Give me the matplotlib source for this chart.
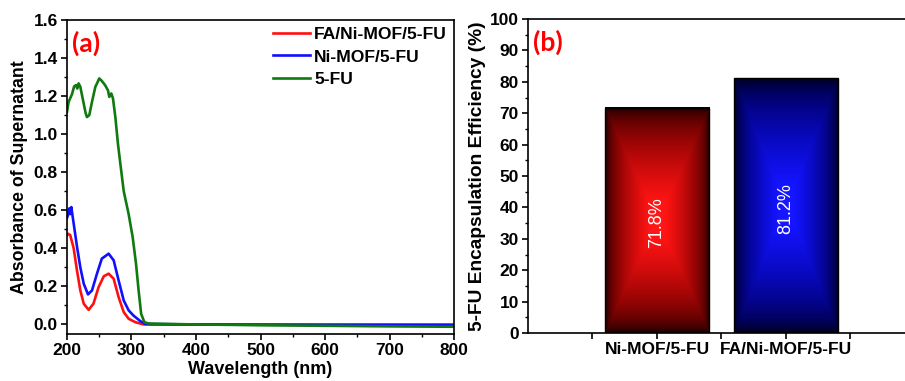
import numpy as np
import matplotlib
matplotlib.use("Agg")
import matplotlib.pyplot as plt
from matplotlib.ticker import MultipleLocator, FormatStrFormatter

plt.rcParams['font.family'] = ['Liberation Sans', 'DejaVu Sans']
plt.rcParams['font.weight'] = 'bold'

# UV-vis spectra of the supernatants
wl_fu = [200, 202.6, 207.8, 211, 214, 216, 218, 220.7, 223, 226, 229, 231, 234.6,
         238.8, 244, 247, 250, 254, 259, 263.6, 265.6, 268.7, 271.3, 275, 279,
         282.7, 288, 295.6, 301.8, 307, 311, 315, 320, 326.6, 400, 500, 600, 700, 800]
abs_fu = [1.117, 1.17, 1.21, 1.25, 1.258, 1.24, 1.267, 1.249, 1.21, 1.16, 1.11, 1.09, 1.10,
          1.17, 1.249, 1.27, 1.293, 1.28, 1.258, 1.23, 1.196, 1.214, 1.188, 1.09, 0.95,
          0.846, 0.70, 0.58, 0.46, 0.32, 0.18, 0.056, 0.012, 0.005, 0.0, -0.004, -0.007, -0.01, -0.012]

wl_ni = [200, 201.5, 203.6, 205, 206.7, 210.4, 215.5, 220.7, 226, 232.6, 238.8, 246.5,
         254, 264.6, 272.4, 280, 288, 295.6, 303, 313.6, 321.4, 330, 400, 600, 800]
abs_ni = [0.56, 0.574, 0.61, 0.58, 0.617, 0.53, 0.41, 0.30, 0.214, 0.158, 0.179, 0.267,
          0.346, 0.372, 0.337, 0.232, 0.126, 0.074, 0.047, 0.018, 0.003, 0.002, 0.0, -0.003, -0.004]

wl_fa = [200, 201.5, 205, 210.4, 215.5, 220.7, 226, 233.6, 241, 249, 257, 264.6,
         272.4, 280, 288, 295.6, 306, 319, 400, 600, 800]
abs_fa = [0.47, 0.477, 0.47, 0.40, 0.284, 0.179, 0.109, 0.077, 0.109, 0.196, 0.253, 0.267,
          0.24, 0.144, 0.065, 0.03, 0.012, 0.0, 0.0, 0.0, 0.0]

# encapsulation efficiency
samples = ['Ni-MOF/5-FU', 'FA/Ni-MOF/5-FU']
efficiency = [71.8, 81.2]
bar_colors = [(1.0, 0.0, 0.0), (0.0, 0.0, 1.0)]

fig = plt.figure(figsize=(9.05, 3.81), dpi=100)

# ---- (a) spectra ----
ax1 = fig.add_axes([0.074, 0.1234, 0.4277, 0.8241])
ax1.plot(wl_fa, abs_fa, color='#ff1010', lw=1.9, label='FA/Ni-MOF/5-FU')
ax1.plot(wl_ni, abs_ni, color='#1010ff', lw=1.9, label='Ni-MOF/5-FU')
ax1.plot(wl_fu, abs_fu, color='#107a10', lw=1.9, label='5-FU')
ax1.set_xlim(200, 800)
ax1.set_ylim(-0.05, 1.6)
ax1.xaxis.set_major_locator(MultipleLocator(100))
ax1.xaxis.set_minor_locator(MultipleLocator(50))
ax1.yaxis.set_major_locator(MultipleLocator(0.2))
ax1.yaxis.set_minor_locator(MultipleLocator(0.1))
ax1.yaxis.set_major_formatter(FormatStrFormatter('%.1f'))
ax1.tick_params(which='major', direction='out', length=4, width=1.2, labelsize=12.5, pad=2.5)
ax1.tick_params(which='minor', direction='out', length=2.5, width=1)
ax1.set_xlabel('Wavelength (nm)', fontsize=13, fontweight='bold', labelpad=2)
ax1.set_ylabel('Absorbance of Supernatant', fontsize=12.8, fontweight='bold', labelpad=4)
for s in ax1.spines.values():
    s.set_linewidth(1.2)
ax1.text(0.014, 0.965, '(a)', transform=ax1.transAxes, color='#ff0000',
         fontsize=19, fontweight='bold', family='Lato', va='top', ha='left')
leg = ax1.legend(loc='upper right', frameon=False, fontsize=12.6, handlelength=2.1,
                 handletextpad=0.25, labelspacing=0.4, borderaxespad=0.0,
                 bbox_to_anchor=(1.0, 1.0))
for t in leg.get_texts():
    t.set_fontweight('bold')

# ---- (b) encapsulation efficiency ----
ax2 = fig.add_axes([0.5834, 0.126, 0.4276, 0.824])
pos = [1, 2]
bars = ax2.bar(pos, efficiency, width=0.81, color='none', edgecolor='black', linewidth=1.0, zorder=3)

# rectangular glow: bright centre fading to black at the edges
n = 300
u = np.linspace(-1, 1, n)
X, Y = np.meshgrid(u, u)
glow = 1 - np.maximum(np.abs(X), np.abs(Y))
glow = np.clip(glow, 0, 1) ** 0.45
for b, c in zip(bars, bar_colors):
    x0, w, h = b.get_x(), b.get_width(), b.get_height()
    img = np.zeros((n, n, 3))
    for k in range(3):
        img[..., k] = glow * c[k] + glow ** 3 * 0.1
    ax2.imshow(np.clip(img, 0, 1), extent=[x0, x0 + w, 0, h], aspect='auto',
               origin='lower', zorder=2, interpolation='bilinear')
for p, v in zip(pos, efficiency):
    ax2.text(p, v * 0.49, f'{v}%', rotation=90, color='white', fontsize=13,
             fontweight='normal', ha='center', va='center', zorder=4)

ax2.set_xlim(0, 3)
ax2.set_ylim(0, 100)
ax2.set_xticks([0.5, 1, 1.5, 2, 2.5, 3])
ax2.set_xticklabels(['', samples[0], '', samples[1], '', ''])
ax2.yaxis.set_major_locator(MultipleLocator(10))
ax2.yaxis.set_minor_locator(MultipleLocator(5))
ax2.tick_params(which='major', direction='out', length=4, width=1.2, labelsize=12.5, pad=2.5)
ax2.tick_params(which='minor', direction='out', length=2.5, width=1)
ax2.set_ylabel('5-FU Encapsulation Efficiency (%)', fontsize=13.8, fontweight='bold', labelpad=3)
for s in ax2.spines.values():
    s.set_linewidth(1.2)
ax2.text(0.014, 0.965, '(b)', transform=ax2.transAxes, color='#ff0000',
         fontsize=19, fontweight='bold', family='Lato', va='top', ha='left')

fig.savefig('out.png', dpi=100, facecolor='white')
